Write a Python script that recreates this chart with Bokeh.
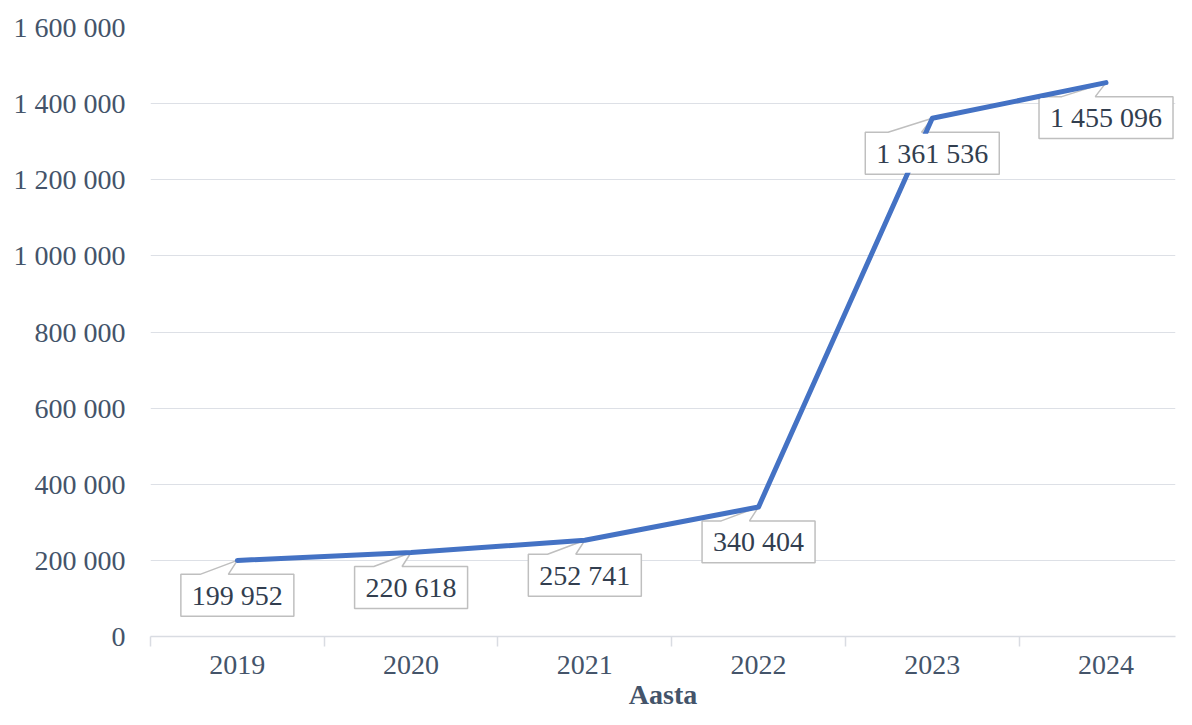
from bokeh.plotting import figure
from bokeh.models import Range1d, FixedTicker, ColumnDataSource, Title
from bokeh.embed import file_html
from bokeh.resources import INLINE
from bokeh.core.properties import value

years = ["2019", "2020", "2021", "2022", "2023", "2024"]
values = [199952, 220618, 252741, 340404, 1361536, 1455096]
value_labels = ["199 952", "220 618", "252 741", "340 404", "1 361 536", "1 455 096"]
y_ticks = [0, 200000, 400000, 600000, 800000, 1000000, 1200000, 1400000, 1600000]
y_tick_labels = ["0", "200 000", "400 000", "600 000", "800 000", "1 000 000",
                 "1 200 000", "1 400 000", "1 600 000"]
x_title = "Aasta"

W, H = 1176, 709
BL, BR, BT = 150, 1, 27
BB = H - 637
FW = W - BL - BR
FH = H - BT - BB
X0, X1 = -0.5, 5.40
Y0, Y1 = 0, 1600000
xpp = (X1 - X0) / FW
ypp = (Y1 - Y0) / FH

FONT = "Liberation Serif"
AXIS_COL = "#44546A"
LABEL_COL = "#323E4F"

p = figure(width=W, height=H, output_backend="svg", toolbar_location=None,
           x_range=Range1d(X0, X1), y_range=Range1d(Y0, Y1),
           min_border_left=BL, min_border_right=BR, min_border_top=BT,
           min_border_bottom=BB)
p.outline_line_color = None
p.background_fill_color = "white"
p.border_fill_color = "white"

# y axis
p.yaxis.ticker = FixedTicker(ticks=y_ticks)
p.yaxis.major_label_overrides = {t: l for t, l in zip(y_ticks, y_tick_labels)}
p.yaxis.axis_line_color = None
p.yaxis.major_tick_line_color = None
p.yaxis.minor_tick_line_color = None
p.yaxis.major_tick_out = 0
p.yaxis.major_tick_in = 0
p.yaxis.minor_tick_out = 0
p.yaxis.minor_tick_in = 0
p.yaxis.major_label_standoff = 25
p.yaxis.major_label_text_font = FONT
p.yaxis.major_label_text_font_size = "28px"
p.yaxis.major_label_text_color = AXIS_COL

# x axis
xs = list(range(len(years)))
p.xaxis.ticker = FixedTicker(ticks=xs, minor_ticks=[i - 0.5 for i in xs])
p.xaxis.major_label_overrides = {i: y for i, y in zip(xs, years)}
p.xaxis.axis_line_color = "#D9DCE2"
p.xaxis.axis_line_width = 1.5
p.xaxis.major_tick_line_color = None
p.xaxis.major_tick_out = 0
p.xaxis.major_tick_in = 0
p.xaxis.minor_tick_line_color = "#D9DCE2"
p.xaxis.minor_tick_line_width = 1.5
p.xaxis.minor_tick_out = 10
p.xaxis.minor_tick_in = 0
p.xaxis.major_label_standoff = 9
p.xaxis.major_label_text_font = FONT
p.xaxis.major_label_text_font_size = "28px"
p.xaxis.major_label_text_color = AXIS_COL

p.xgrid.grid_line_color = None
p.ygrid.ticker = FixedTicker(ticks=y_ticks)
p.ygrid.grid_line_color = "#DDE0E6"
p.ygrid.grid_line_width = 1.2

# axis title below the x axis
p.add_layout(Title(text=x_title, align="center", offset=16, standoff=0,
                   text_font=FONT, text_font_size="28px", text_font_style="bold",
                   text_color=AXIS_COL), "below")

# callouts (shapes)
cx, cy, shapes_x, shapes_y, inner_w, inner_h = [], [], [], [], [], []
for x, v, lab in zip(xs, values, value_labels):
    nd = sum(c.isdigit() for c in lab)
    ns = lab.count(" ")
    w = nd * 14 + ns * 7 + 22
    h = 42
    top = 14
    left = -w / 2
    b1 = left + 0.17 * w
    b2 = left + 0.42 * w
    px_pts = [(left, top), (b1, top), (0, 0), (b2, top), (w / 2, top),
              (w / 2, top + h), (left, top + h)]
    shapes_x.append([x + dx * xpp for dx, dy in px_pts])
    shapes_y.append([v - dy * ypp for dx, dy in px_pts])
    cx.append(x)
    cy.append(v - (top + h / 2) * ypp)
    inner_w.append((w - 3) * xpp)
    inner_h.append((h - 3) * ypp)

p.patches(shapes_x, shapes_y, fill_color="white", line_color="#BFBFBF", line_width=1.5)

p.line(xs, values, line_color="#4472C4", line_width=5, line_join="round", line_cap="round")

src = ColumnDataSource(dict(x=cx, y=cy, w=inner_w, h=inner_h, t=value_labels))
p.rect(x="x", y="y", width="w", height="h", source=src, fill_color="white", line_color=None)
p.text(x="x", y="y", text="t", source=src, text_align="center", text_baseline="middle",
       text_font=value(FONT), text_font_size="28px", text_color=LABEL_COL)

open("out.html", "w").write(file_html(p, INLINE))
